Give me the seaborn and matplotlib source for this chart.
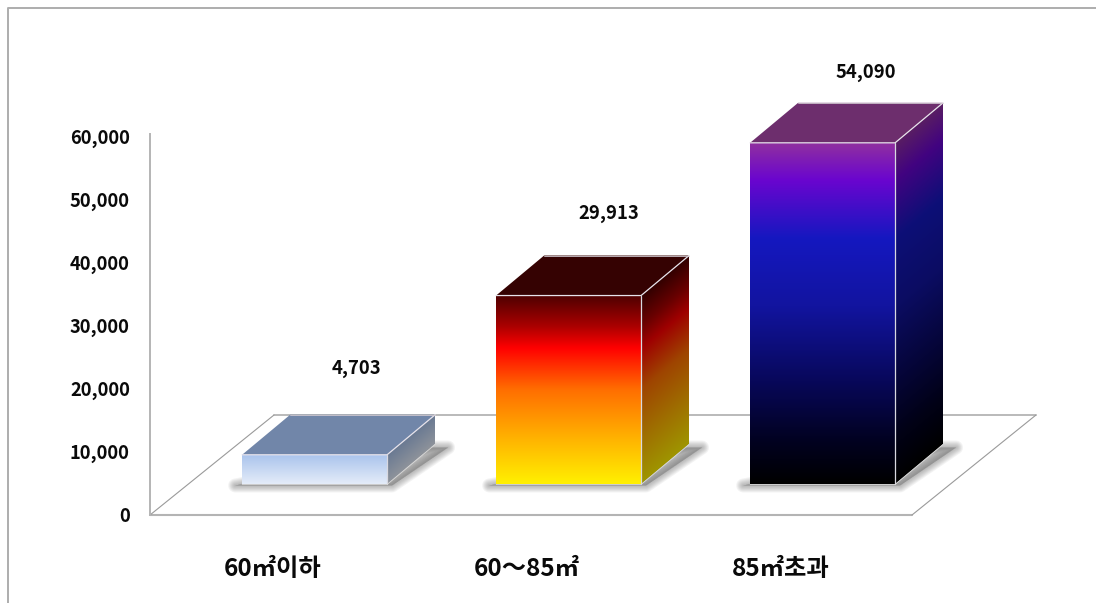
import numpy as np
import matplotlib
matplotlib.use("Agg")
import matplotlib.pyplot as plt
import seaborn as sns
from matplotlib.colors import LinearSegmentedColormap
from matplotlib.lines import Line2D
from matplotlib.patches import Polygon
from matplotlib.ticker import FuncFormatter
from matplotlib.transforms import Affine2D, IdentityTransform, ScaledTranslation

categories = ["60㎡이하", "60～85㎡", "85㎡초과"]
values = [4703, 29913, 54090]
y_ticks = [0, 10000, 20000, 30000, 40000, 50000, 60000]

front_stops = [
    [(0, "#A9C3EC"), (1, "#E4ECF9")],
    [(0, "#4E0000"), (0.16, "#A80000"), (0.28, "#FF0000"), (0.5, "#FF6E00"), (0.75, "#FFB000"), (1, "#FFF000")],
    [(0, "#90309F"), (0.11, "#6A05CF"), (0.28, "#1518C0"), (0.48, "#12149F"), (0.7, "#08085A"), (0.86, "#020225"), (1, "#000000")],
]
top_colors = ["#7186A9", "#350202", "#6D2E6D"]
bar_colors = ["#C5D6F2", "#FF6E00", "#12149F"]

W, H, DPI = 1096, 603, 100
BASE = 4830           # the bars stand on the floor, above the plane's front edge
DEPTH = (48, 40)      # pixels
FLOOR = (124, 100)    # pixels
SIDE_SHADE = 0.62
LABEL_LIFT = [86, 82, 70]
LABEL_SHIFT = [42, 40, 43]

sns.set_theme(style="white")
plt.rcParams["font.family"] = ["Noto Sans CJK KR", "DejaVu Sans"]

fig = plt.figure(figsize=(W / DPI, H / DPI), dpi=DPI, facecolor="white")
ax = fig.add_axes([150 / W, (H - 515) / H, 762 / W, 379 / H])
ax.patch.set_alpha(0)

sns.barplot(x=categories, y=values, hue=categories, palette=bar_colors, legend=False,
            width=145 / 254, bottom=BASE, ax=ax, zorder=3, linewidth=0, saturation=1)
ax.set_xlim(-0.648, 2.352)
ax.set_ylim(0, 60000)
ax.set_autoscale_on(False)
ax.set_ylabel("")
ax.set_yticks(y_ticks)
ax.yaxis.set_major_formatter(FuncFormatter(lambda v, _: f"{int(v):,}"))
ax.tick_params(axis="y", length=0, pad=14.5, labelsize=13.2, labelcolor="#0A0A0A")
ax.tick_params(axis="x", length=0, pad=30, labelsize=17.5, labelcolor="#0A0A0A")
for lab in ax.get_yticklabels():
    lab.set_fontweight("bold")
shift = ScaledTranslation(-42 / DPI, 0, fig.dpi_scale_trans)
for lab in ax.get_xticklabels():
    lab.set_fontweight("bold")
    lab.set_transform(lab.get_transform() + shift)
for name in ("top", "right", "bottom"):
    ax.spines[name].set_visible(False)
ax.spines["left"].set_color("#B4B4B4")
ax.spines["left"].set_linewidth(1.4)
ax.spines["left"].set_bounds(0, 60300)

px = IdentityTransform()

# floor plane
(xa, ya), (xb, yb) = ax.transAxes.transform([(0, 0), (1, 0)])
fx, fy = FLOOR
ax.add_line(Line2D([xa, xb], [ya, yb], transform=px, color="#B4B4B4", lw=1.5, clip_on=False, zorder=1))
ax.add_line(Line2D([xa + fx, xb + fx], [ya + fy, yb + fy], transform=px, color="#B4B4B4", lw=1.3, clip_on=False, zorder=1))
ax.add_line(Line2D([xa, xa + fx], [ya, ya + fy], transform=px, color="#9A9A9A", lw=0.8, clip_on=False, zorder=1))
ax.add_line(Line2D([xb, xb + fx], [yb, yb + fy], transform=px, color="#9A9A9A", lw=0.8, clip_on=False, zorder=1))

dx, dy = DEPTH
for i, (bar, val) in enumerate(zip(ax.patches, values)):
    (x0, y0), (x1, y1) = ax.transData.transform(
        [(bar.get_x(), bar.get_y()), (bar.get_x() + bar.get_width(), bar.get_y() + bar.get_height())])
    h = y1 - y0
    cmap = LinearSegmentedColormap.from_list(f"bar{i}", front_stops[i], N=256)
    grad = np.linspace(0, 1, 256)[:, None]

    # soft shadow on the floor
    shadow = [(x0 - 7, y0 - 1), (x1 + 5, y0 - 1), (x1 + dx + 13, y0 + dy - 3), (x1 + dx - 6, y0 + dy - 3)]
    for lw in (10, 8.5, 7, 5.5, 4, 2.5, 1):
        ax.add_patch(Polygon(shadow, closed=True, transform=px, fc="#666666", ec="#666666", lw=lw,
                             alpha=0.08, joinstyle="round", clip_on=False, zorder=2))

    # front face
    ax.imshow(grad, cmap=cmap, aspect="auto", extent=(x0, x1, y0, y1), transform=px,
              origin="upper", zorder=3.1, clip_on=False, interpolation="bilinear")

    # side face, same gradient shaded and sheared back
    rgba = cmap(grad[:, 0]).copy()
    rgba[:, :3] *= SIDE_SHADE
    im = ax.imshow(rgba[:, None, :], aspect="auto", extent=(0, 1, 1, 0), origin="upper",
                   zorder=3.1, interpolation="bilinear")
    im.set_transform(Affine2D(np.array([[dx, 0, x1], [dy, -h, y1], [0, 0, 1]])))
    side = Polygon([(x1, y0), (x1 + dx, y0 + dy), (x1 + dx, y1 + dy), (x1, y1)], closed=True,
                   transform=px, fc="none", ec="none")
    ax.add_patch(side)
    side.set_clip_on(False)
    im.set_clip_on(True)
    im.set_clip_box(fig.bbox)
    im.set_clip_path(side)

    # top face
    ax.add_patch(Polygon([(x0, y1), (x1, y1), (x1 + dx, y1 + dy), (x0 + dx, y1 + dy)], closed=True,
                         transform=px, fc=top_colors[i], ec="none", clip_on=False, zorder=3.2))

    # light edges
    edge = dict(transform=px, clip_on=False, zorder=3.4, solid_capstyle="round")
    ax.add_line(Line2D([x0, x1, x1 + dx], [y1, y1, y1 + dy], color="#E6E2EA", lw=0.9, **edge))
    ax.add_line(Line2D([x1, x1], [y1, y0], color="#D8D8E0", lw=0.9, **edge))
    ax.add_line(Line2D([x0, x1, x1 + dx], [y0, y0, y0 + dy], color="#D8D8D8", lw=0.6, **edge))
    ax.add_line(Line2D([x0 + dx, x1 + dx], [y1 + dy, y1 + dy], color="#D0C8D0", lw=0.6, **edge))

    # value label
    ax.annotate(f"{val:,}", xy=(i, val + BASE), xytext=(LABEL_SHIFT[i] * 72 / DPI, LABEL_LIFT[i] * 72 / DPI),
                textcoords="offset points", ha="center", va="center", fontsize=13.3, fontweight="bold",
                color="#0A0A0A", annotation_clip=False, zorder=5)

# picture frame
fig.add_artist(Line2D([7.5 / W, 7.5 / W, 1], [0, (H - 7.5) / H, (H - 7.5) / H], color="#ADADAD", lw=1.4))

fig.savefig("out.png", dpi=DPI, facecolor="white")
